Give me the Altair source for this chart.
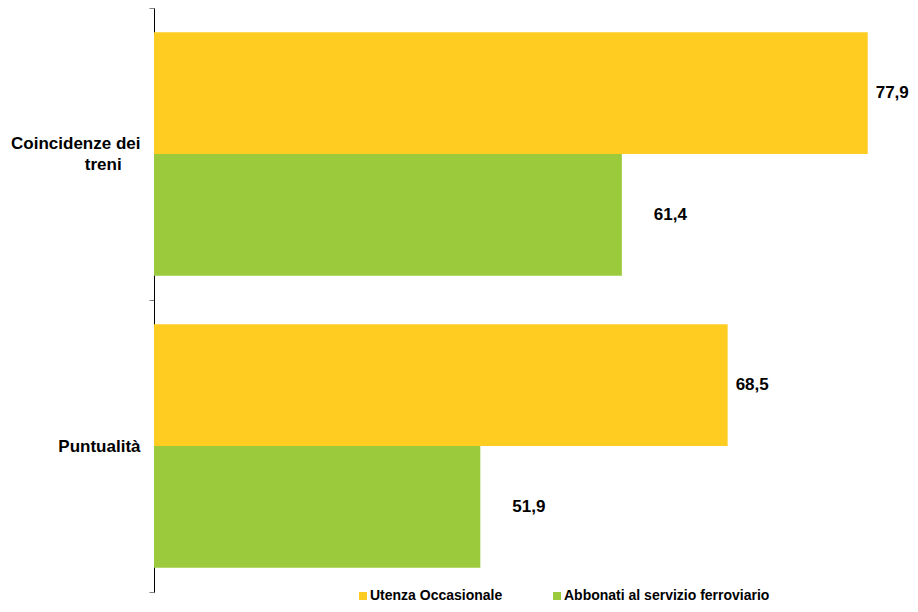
import altair as alt
import pandas as pd

categorie = ["Coincidenze dei treni", "Puntualità"]
serie = ["Utenza Occasionale", "Abbonati al servizio ferroviario"]
valori_occasionale = [77.9, 68.5]
valori_abbonati = [61.4, 51.9]
colori = ["#FFCC21", "#9BCB3C"]

rows = []
for c, v in zip(categorie, valori_occasionale):
    rows.append({"categoria": c, "serie": serie[0], "valore": v})
for c, v in zip(categorie, valori_abbonati):
    rows.append({"categoria": c, "serie": serie[1], "valore": v})
df = pd.DataFrame(rows)

PAD = "\u00a0" * 4 + "\u200b"
y_enc = alt.Y(
    "categoria:N",
    sort=categorie,
    scale=alt.Scale(paddingInner=0, paddingOuter=0),
    axis=alt.Axis(
        title=None,
        domainColor="black",
        domainWidth=1,
        tickBand="extent",
        tickColor="#808080",
        tickSize=5,
        labelFont="Liberation Sans",
        labelFontSize=17,
        labelFontWeight="bold",
        labelColor="black",
        labelAlign="right",
        labelBaseline="middle",
        labelLineHeight=21,
        labelLimit=300,
        labelPadding=9,
        labelOffset={"condition": {"test": "datum.value == 'Coincidenze dei treni'", "value": -11}, "value": 0},
        labelExpr="datum.value == 'Coincidenze dei treni' ? ['Coincidenze dei', 'treni" + PAD + "'] : datum.value",
    ),
)
yoff = alt.YOffset("serie:N", sort=serie, scale=alt.Scale(paddingInner=0, paddingOuter=0.2))
x_enc = alt.X("valore:Q", scale=alt.Scale(domain=[30, 80], zero=False, nice=False), axis=None)

base = alt.Chart(df)

bars = base.mark_bar(clip=True).encode(
    x=x_enc,
    y=y_enc,
    yOffset=yoff,
    color=alt.Color(
        "serie:N",
        sort=serie,
        scale=alt.Scale(domain=serie, range=colori),
        legend=alt.Legend(
            title=None,
            orient="none",
            legendX=202,
            legendY=581,
            direction="horizontal",
            symbolType="square",
            symbolSize=64,
            symbolStrokeWidth=0,
            labelFont="Liberation Sans",
            labelFontSize=14,
            labelFontWeight="bold",
            labelColor="black",
            labelLimit=400,
            labelOffset=0,
            columnPadding=47,
        ),
    ),
)

def labels(s, dx):
    return base.transform_filter(alt.datum.serie == s).transform_calculate(
        etichetta="replace(format(datum.valore, '.1f'), '.', ',')"
    ).mark_text(
        align="left", baseline="middle", dx=dx,
        font="Liberation Sans", fontSize=17, fontWeight="bold", color="black"
    ).encode(
        x=x_enc,
        y=alt.Y("categoria:N", sort=categorie),
        yOffset=yoff,
        text="etichetta:N",
    )

chart = alt.layer(bars, labels(serie[0], 8), labels(serie[1], 32)).properties(
    width=745,
    height=584,
    padding={"left": 146, "top": 0, "right": 11, "bottom": 12},
    autosize=alt.AutoSizeParams(type="none"),
    background="white",
).configure_view(stroke=None)

chart.save("out.html", embed_options={"renderer": "svg", "actions": False})
